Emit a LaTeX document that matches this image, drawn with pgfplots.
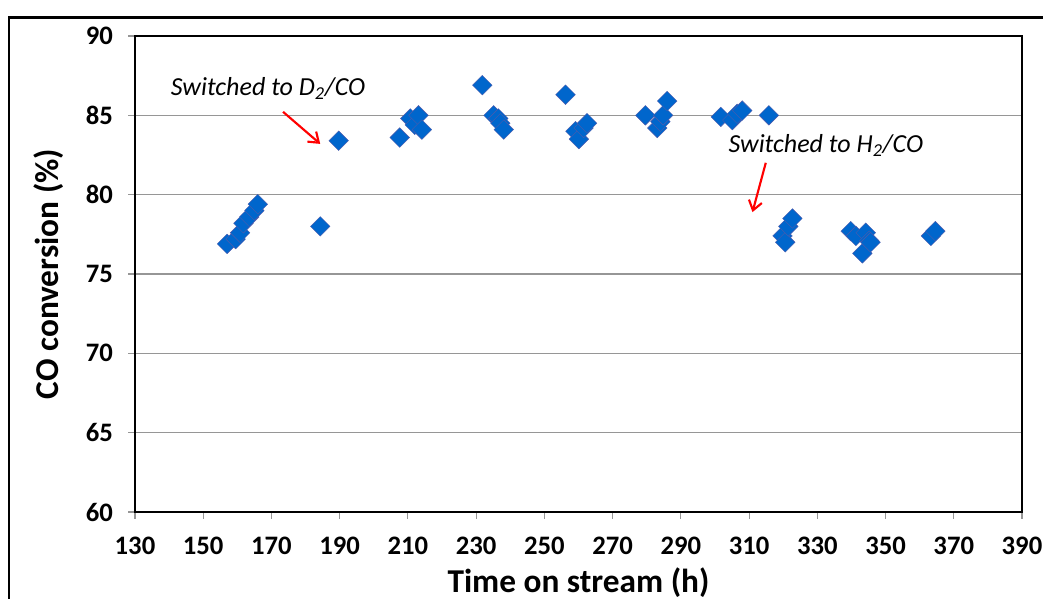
\documentclass[border=0pt]{standalone}
\usepackage{pgfplots}
\pgfplotsset{compat=1.18}
\usepackage{fontspec}
\setmainfont{Carlito}
\usetikzlibrary{arrows.meta}
\definecolor{mkfill}{RGB}{0,102,204}
\definecolor{mkedge}{RGB}{80,90,170}
\definecolor{gridgray}{RGB}{150,150,150}
\begin{document}
\begin{tikzpicture}
\useasboundingbox (-101.25pt,-65.25pt) rectangle (681pt,384pt);
\draw[line width=1.8pt,black] (-94.5pt,-70pt) -- (-94.5pt,371pt) -- (690pt,371pt);
\begin{axis}[
  scale only axis,
  width=665.25pt, height=357pt,
  xmin=130, xmax=390, ymin=60, ymax=90,
  xtick={130,150,...,390}, ytick={60,65,...,90},
  tick pos=left, tick align=outside,
  major tick length=5pt,
  tick style={gridgray, line width=0.8pt},
  ymajorgrids, grid style={gridgray, line width=0.9pt},
  axis line style={black, line width=2.2pt},
  /pgf/number format/assume math mode=true,
  tick label style={font=\bfseries\fontsize{20}{20}\selectfont},
  xticklabel style={yshift=-10pt},
  yticklabel style={xshift=-8pt},
  xlabel={Time on stream (h)},
  ylabel={CO conversion (\%)},
  label style={font=\bfseries\fontsize{25}{26}\selectfont},
  xlabel style={at={(axis description cs:0.5,0)}, anchor=center, yshift=-53pt},
  ylabel style={at={(axis description cs:-0.097,0.5)}, anchor=center},
  clip=false,
]
\addplot[only marks, mark=square*, mark size=5.2pt,
  mark options={rotate=45, fill=mkfill, draw=mkedge, line width=0.3pt}]
  coordinates {
(157.0,76.9) (159.5,77.2) (160.8,77.6) (161.8,78.2) (163.5,78.6) (165.0,79.0) (166.0,79.4)
(184.3,78.0) (189.7,83.4)
(207.6,83.6) (210.7,84.8) (212.0,84.4) (213.1,85.0) (214.1,84.1)
(231.8,86.9) (235.1,85.0) (236.5,84.8) (237.1,84.5) (238.1,84.1)
(256.2,86.3) (259.1,84.0) (260.1,83.5) (261.5,84.2) (262.5,84.5)
(279.6,85.0) (283.1,84.2) (284.0,84.6) (284.8,85.0) (286.0,85.9)
(301.7,84.9) (305.1,84.7) (306.5,85.1) (308.0,85.3) (315.8,85.0)
(319.8,77.4) (320.6,77.0) (321.5,78.0) (322.7,78.5)
(339.8,77.7) (341.3,77.4) (343.2,76.3) (344.2,77.6) (345.2,77.1) (345.6,77.0)
(363.3,77.4) (364.6,77.7)
  };
\node[font=\itshape\fontsize{19.5}{20}\selectfont] at (axis cs:169.0,86.7) {Switched to D\textsubscript{2}/CO};
\node[font=\itshape\fontsize{19.5}{20}\selectfont] at (axis cs:332.5,83.1) {Switched to H\textsubscript{2}/CO};
\draw[red, line width=1.6pt, -{Straight Barb[length=7pt,width=10pt]}] (axis cs:173.4,85.22) -- (axis cs:184.3,83.2);
\draw[red, line width=1.6pt, -{Straight Barb[length=7pt,width=10pt]}] (axis cs:314.9,82.01) -- (axis cs:311.0,78.9);
\end{axis}
\end{tikzpicture}
\end{document}
